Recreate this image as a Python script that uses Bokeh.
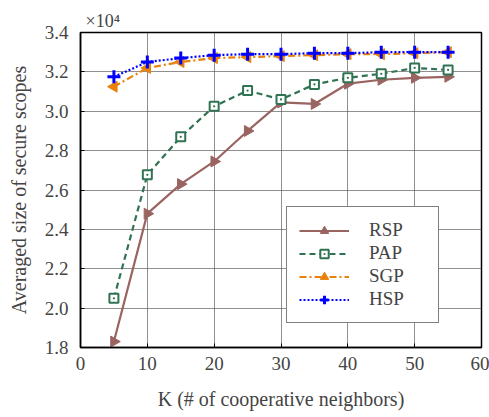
import math
from bokeh.plotting import figure
from bokeh.models import Legend, LegendItem, FixedTicker, CustomJSTickFormatter, ColumnDataSource
from bokeh.embed import file_html
from bokeh.resources import INLINE

K = [5, 10, 15, 20, 25, 30, 35, 40, 45, 50, 55]
RSP = [1.83, 2.48, 2.63, 2.745, 2.90, 3.045, 3.037, 3.14, 3.16, 3.17, 3.175]
PAP = [2.05, 2.677, 2.87, 3.025, 3.105, 3.06, 3.136, 3.17, 3.19, 3.22, 3.21]
SGP = [3.125, 3.22, 3.25, 3.27, 3.275, 3.28, 3.285, 3.29, 3.29, 3.295, 3.30]
HSP = [3.175, 3.25, 3.27, 3.285, 3.29, 3.29, 3.295, 3.295, 3.30, 3.30, 3.30]
x_ticks = [0, 10, 20, 30, 40, 50, 60]
y_ticks = [1.8, 2.0, 2.2, 2.4, 2.6, 2.8, 3.0, 3.2, 3.4]

src = ColumnDataSource(dict(K=K, RSP=RSP, PAP=PAP, SGP=SGP, HSP=HSP))

FONT = "Liberation Serif"

p = figure(width=489, height=417, output_backend="svg", toolbar_location=None,
           x_range=(0, 60), y_range=(1.8, 3.4),
           min_border_left=80, min_border_right=8, min_border_top=32, min_border_bottom=70,
           title="×10⁴")
p.title.text_font = FONT
p.title.text_font_size = "18px"
p.title.text_font_style = "normal"
p.title.offset = 5
p.title.standoff = 3

p.background_fill_color = "white"
p.border_fill_color = "white"
p.outline_line_color = "black"
p.outline_line_width = 1.5

for ax in (p.xaxis[0], p.yaxis[0]):
    ax.axis_label_text_font = FONT
    ax.major_label_text_font = FONT
    ax.axis_label_text_font_size = "20px"
    ax.axis_label_text_font_style = "normal"
    ax.major_label_text_font_size = "19px"
    ax.major_tick_in = 4
    ax.major_tick_out = 0
    ax.minor_tick_in = 0
    ax.minor_tick_out = 0
    ax.axis_line_color = "black"
    ax.axis_line_width = 1.5

p.xaxis.ticker = FixedTicker(ticks=x_ticks)
p.yaxis.ticker = FixedTicker(ticks=y_ticks)
p.yaxis.formatter = CustomJSTickFormatter(code="return tick.toFixed(1);")
p.xaxis.axis_label = "K (# of cooperative neighbors)"
p.yaxis.axis_label = "Averaged size of secure scopes"
p.xaxis.major_label_standoff = 9
p.yaxis.major_label_standoff = 12
p.xaxis.axis_label_standoff = 15
p.yaxis.axis_label_standoff = 12

p.grid.grid_line_color = "#555555"
p.grid.grid_line_alpha = 0.65
p.grid.grid_line_width = 1

c_rsp = "#9A6461"
c_pap = "#2F7352"
c_sgp = "#E8820C"
c_hsp = "#0000FF"

l1 = p.line("K", "RSP", source=src, line_color=c_rsp, line_width=2.2)
m1 = p.scatter("K", "RSP", source=src, marker="triangle", angle=-math.pi / 2, size=11,
               fill_color=c_rsp, line_color=c_rsp)
l2 = p.line("K", "PAP", source=src, line_color=c_pap, line_width=2.2, line_dash="6 4")
m2 = p.scatter("K", "PAP", source=src, marker="square_dot", size=9, fill_color="white",
               line_color=c_pap, line_width=2)
l3 = p.line("K", "SGP", source=src, line_color=c_sgp, line_width=2.2, line_dash="7 3 2 3")
m3 = p.scatter("K", "SGP", source=src, marker="triangle", angle=math.pi / 2, size=11,
               fill_color=c_sgp, line_color=c_sgp)
l4 = p.line("K", "HSP", source=src, line_color=c_hsp, line_width=2.2, line_dash="2 2")
m4 = p.scatter("K", "HSP", source=src, marker="cross", size=13, line_color=c_hsp, line_width=3)

legend = Legend(items=[
    LegendItem(label="RSP", renderers=[l1, m1]),
    LegendItem(label="PAP", renderers=[l2, m2]),
    LegendItem(label="SGP", renderers=[l3, m3]),
    LegendItem(label="HSP", renderers=[l4, m4]),
], location=(206, 24))
legend.label_text_font = FONT
legend.label_text_font_size = "19px"
legend.glyph_width = 50
legend.glyph_height = 21
legend.label_height = 21
legend.label_width = 57
legend.spacing = 1
legend.padding = 12
legend.label_standoff = 20
legend.border_line_color = "black"
legend.border_line_width = 1.5
legend.background_fill_alpha = 1
legend.margin = 0
p.add_layout(legend)

open("out.html", "w").write(file_html(p, INLINE))
